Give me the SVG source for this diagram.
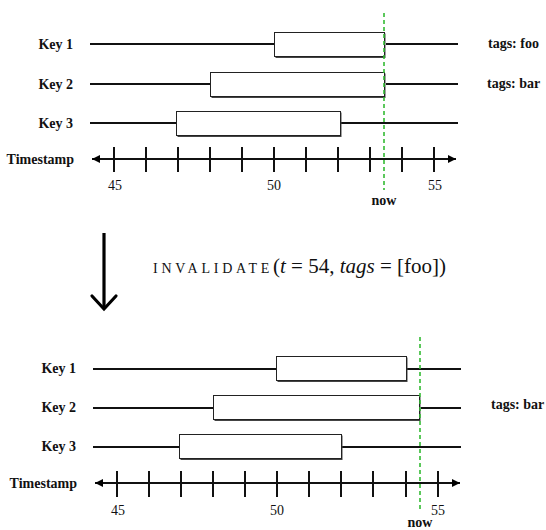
<svg xmlns="http://www.w3.org/2000/svg" width="546" height="530" viewBox="0 0 546 530">
<defs>
<marker id="ah" viewBox="0 0 10 10" refX="10" refY="5" markerWidth="10" markerHeight="8" markerUnits="userSpaceOnUse" orient="auto-start-reverse">
<path d="M0,0 L10,5 L0,10 z" fill="#000"/>
</marker>
</defs>
<style>
text{font-family:'Liberation Serif','Times New Roman','DejaVu Serif',serif}
.lbl{font-size:14px;font-weight:bold;fill:#111}
.num{font-size:14px;fill:#111;text-anchor:middle}
.ln{stroke:#111;stroke-width:2;fill:none}
.tick{stroke:#111;stroke-width:2}
.axis{stroke:#111;stroke-width:2}
.box{fill:#fff;stroke:#222;stroke-width:1}
.sh{fill:#444}
.now{stroke:#33bb33;stroke-width:1.6;stroke-dasharray:4,3}
</style>
<rect width="546" height="530" fill="#fff"/>

<!-- TOP -->
<g id="top-labels">
<text class="lbl" x="73" y="49" text-anchor="end">Key 1</text>
<text class="lbl" x="73" y="89" text-anchor="end">Key 2</text>
<text class="lbl" x="73" y="128" text-anchor="end">Key 3</text>
<text class="lbl" x="74" y="164" text-anchor="end">Timestamp</text>
<text class="lbl" x="488" y="48">tags: foo</text>
<text class="lbl" x="487" y="88">tags: bar</text>
</g>
<g id="top-connectors">
<line class="ln" x1="90" y1="44" x2="274" y2="44"/>
<line class="ln" x1="386" y1="44" x2="458" y2="44"/>
<line class="ln" x1="90" y1="84" x2="210" y2="84"/>
<line class="ln" x1="386" y1="84" x2="458" y2="84"/>
<line class="ln" x1="90" y1="123" x2="176" y2="123"/>
<line class="ln" x1="340" y1="123" x2="458" y2="123"/>
<line class="axis" x1="92" y1="159" x2="456" y2="159" marker-start="url(#ah)" marker-end="url(#ah)"/>
<g class="tick">
<line x1="114" y1="147" x2="114" y2="172"/><line x1="146" y1="147" x2="146" y2="172"/>
<line x1="178" y1="147" x2="178" y2="172"/><line x1="210" y1="147" x2="210" y2="172"/>
<line x1="242" y1="147" x2="242" y2="172"/><line x1="274" y1="147" x2="274" y2="172"/>
<line x1="306" y1="147" x2="306" y2="172"/><line x1="338" y1="147" x2="338" y2="172"/>
<line x1="370" y1="147" x2="370" y2="172"/><line x1="402" y1="147" x2="402" y2="172"/>
<line x1="434" y1="147" x2="434" y2="172"/>
</g>
</g>
<g id="top-box1"><rect class="sh" x="275.5" y="33.5" width="110" height="24.5"/><rect class="box" x="274.5" y="32.5" width="110" height="24"/></g>
<g id="top-box2"><rect class="sh" x="211.5" y="73.5" width="174" height="24.5"/><rect class="box" x="210.5" y="72.5" width="174" height="24"/></g>
<g id="top-box3"><rect class="sh" x="177.5" y="112.5" width="164" height="24.5"/><rect class="box" x="176.5" y="111.5" width="164" height="24"/></g>
<g id="top-nums">
<text class="num" x="115" y="190">45</text>
<text class="num" x="274" y="190">50</text>
<text class="num" x="435" y="190">55</text>
</g>
<g id="top-now">
<line class="now" x1="384" y1="13" x2="384" y2="190"/>
<text class="lbl" x="384" y="205" text-anchor="middle">now</text>
</g>

<!-- MIDDLE -->
<g id="transition">
<line x1="104" y1="233" x2="104" y2="309" stroke="#000" stroke-width="3.2"/>
<path d="M92,296 L104,309 L116,296" fill="none" stroke="#000" stroke-width="3.2" stroke-linecap="round" stroke-linejoin="miter"/>
<text x="153" y="273" font-size="21" fill="#111"><tspan font-size="14" letter-spacing="3.8">INVALIDATE</tspan><tspan x="273">(</tspan><tspan font-style="italic">t</tspan> = 54, <tspan font-style="italic">tags</tspan> = [foo])</text>
</g>

<!-- BOTTOM -->
<g id="bottom-labels">
<text class="lbl" x="76" y="373" text-anchor="end">Key 1</text>
<text class="lbl" x="76" y="412" text-anchor="end">Key 2</text>
<text class="lbl" x="76" y="451" text-anchor="end">Key 3</text>
<text class="lbl" x="77" y="488" text-anchor="end">Timestamp</text>
<text class="lbl" x="491" y="409">tags: bar</text>
</g>
<g id="bottom-connectors">
<line class="ln" x1="93" y1="369" x2="277" y2="369"/>
<line class="ln" x1="407" y1="369" x2="461" y2="369"/>
<line class="ln" x1="93" y1="408" x2="213" y2="408"/>
<line class="ln" x1="421" y1="408" x2="461" y2="408"/>
<line class="ln" x1="93" y1="447" x2="179" y2="447"/>
<line class="ln" x1="342" y1="447" x2="461" y2="447"/>
<line class="axis" x1="95" y1="483" x2="460" y2="483" marker-start="url(#ah)" marker-end="url(#ah)"/>
<g class="tick">
<line x1="117" y1="471" x2="117" y2="497"/><line x1="149" y1="471" x2="149" y2="497"/>
<line x1="181" y1="471" x2="181" y2="497"/><line x1="213" y1="471" x2="213" y2="497"/>
<line x1="245" y1="471" x2="245" y2="497"/><line x1="277" y1="471" x2="277" y2="497"/>
<line x1="309" y1="471" x2="309" y2="497"/><line x1="341" y1="471" x2="341" y2="497"/>
<line x1="373" y1="471" x2="373" y2="497"/><line x1="406" y1="471" x2="406" y2="497"/>
<line x1="438" y1="471" x2="438" y2="497"/>
</g>
</g>
<g id="bottom-box1"><rect class="sh" x="277.5" y="357.5" width="130" height="24.5"/><rect class="box" x="276.5" y="356.5" width="130" height="24"/></g>
<g id="bottom-box2"><rect class="sh" x="214.5" y="396.5" width="206" height="24.5"/><rect class="box" x="213.5" y="395.5" width="206" height="24"/></g>
<g id="bottom-box3"><rect class="sh" x="180.5" y="435.5" width="162" height="24.5"/><rect class="box" x="179.5" y="434.5" width="162" height="24"/></g>
<g id="bottom-nums">
<text class="num" x="118" y="515">45</text>
<text class="num" x="277" y="515">50</text>
<text class="num" x="438" y="515">55</text>
</g>
<g id="bottom-now">
<line class="now" x1="420" y1="337" x2="420" y2="512"/>
<text class="lbl" x="420" y="527" text-anchor="middle">now</text>
</g>
</svg>
